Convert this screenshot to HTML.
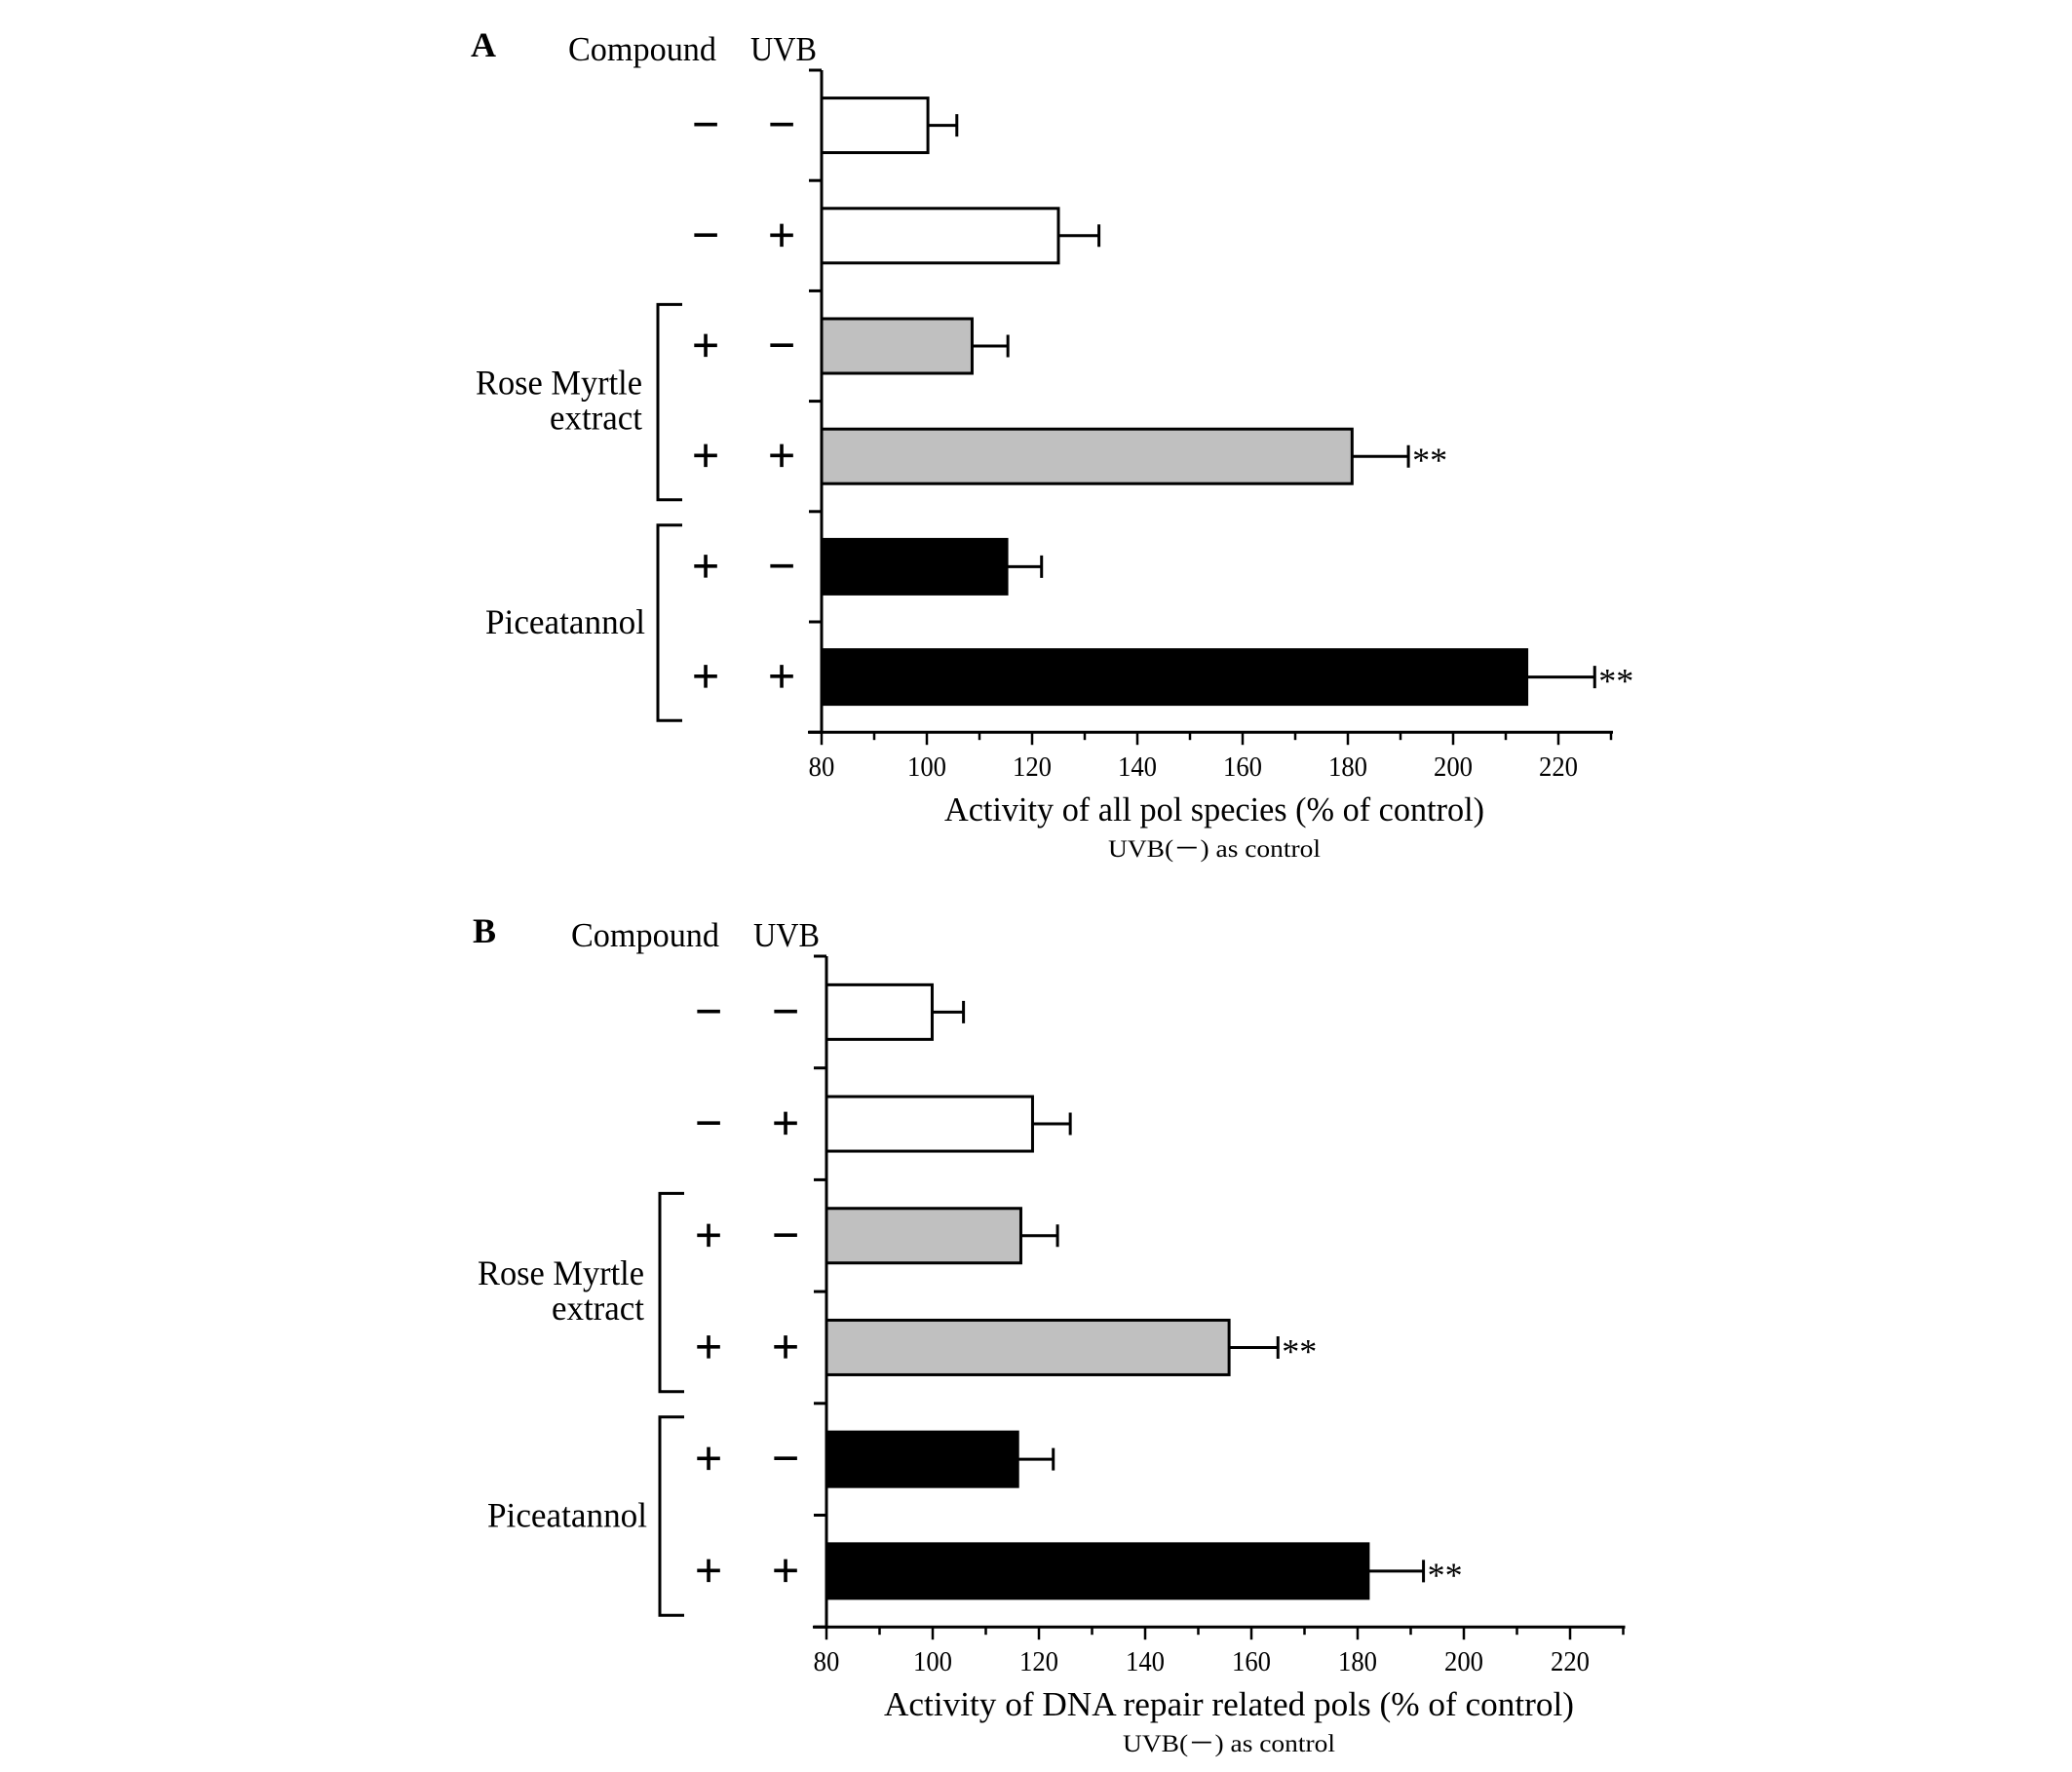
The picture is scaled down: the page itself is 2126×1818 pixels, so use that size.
<!DOCTYPE html>
<html><head><meta charset="utf-8"><style>
html,body{margin:0;padding:0;background:#fff;}
svg{display:block;}
text{font-family:"Liberation Serif",serif;fill:#000;}
</style></head><body>
<svg id="chart" width="2126" height="1818" viewBox="0 0 2126 1818" xmlns="http://www.w3.org/2000/svg"></svg>
<script>
const compound = ['−','−','+','+','+','+'];
const uvb = ['−','+','−','+','−','+'];
const fills = ['#fff','#fff','#c0c0c0','#c0c0c0','#000','#000'];
const valuesA = [100.2, 125.0, 108.6, 180.8, 115.2, 214.0];
const errorsA = [105.7, 132.7, 115.4, 191.5, 121.8, 226.9];
const starsA = ['', '', '', '**', '', '**'];
const valuesB = [99.9, 118.8, 116.6, 155.8, 116.0, 182.0];
const errorsB = [105.8, 125.9, 123.5, 165.0, 122.7, 192.4];
const starsB = ['', '', '', '**', '', '**'];
const tickLabels = [80, 100, 120, 140, 160, 180, 200, 220];

const NS = 'http://www.w3.org/2000/svg';
const svg = document.getElementById('chart');
function mk(tag, attrs, parent, txt){
  const e = document.createElementNS(NS, tag);
  for (const k in attrs) e.setAttribute(k, attrs[k]);
  if (txt !== undefined) e.textContent = txt;
  (parent || svg).appendChild(e);
  return e;
}
function panel(cfg){
  const g = mk('g', {});
  
  
  const x = v => cfg.x0 + (v - 80) * cfg.per20 / 20;
  const top = cfg.top, sp = cfg.sp, bottom = top + sp * 6;
  const rowY = i => top + sp * (i + 0.5);
  const sw = 3;
  let t = mk('text', {x: cfg.lx, y: cfg.hy, 'font-size': 36, 'font-weight': 'bold'}, g, cfg.id);
   
  t = mk('text', {x: cfg.cx, y: cfg.hy + 4, 'font-size': 35, textLength: 152, lengthAdjust: 'spacingAndGlyphs'}, g, 'Compound');
   
  t = mk('text', {x: cfg.ux, y: cfg.hy + 4, 'font-size': 35, textLength: 68, lengthAdjust: 'spacingAndGlyphs'}, g, 'UVB');
   
  let l = mk('line', {x1: cfg.x0, y1: top, x2: cfg.x0, y2: bottom + 1.5, stroke: '#000', 'stroke-width': sw}, g);
   
  for (let i = 0; i <= 6; i++){
    const tk = mk('line', {x1: cfg.x0 - 13, y1: top + sp * i, x2: cfg.x0, y2: top + sp * i, stroke: '#000', 'stroke-width': sw}, g);
     
  }
  l = mk('line', {x1: cfg.x0 - 14, y1: bottom, x2: x(230) + 2, y2: bottom, stroke: '#000', 'stroke-width': sw}, g);
   
  for (let v = 80; v <= 230; v += 10){
    const major = v % 20 === 0;
    const tk = mk('line', {x1: x(v), y1: bottom, x2: x(v), y2: bottom + (major ? 13 : 8), stroke: '#000', 'stroke-width': 2.5}, g);
     
  }
  tickLabels.forEach(v => {
    const tl = mk('text', {x: x(v), y: bottom + 45, 'font-size': 29, 'text-anchor': 'middle', transform: `translate(${x(v)},0) scale(0.92,1) translate(${-x(v)},0)`}, g, String(v));
     
  });
  t = mk('text', {x: cfg.tc, y: bottom + 91, 'font-size': 35, 'text-anchor': 'middle', textLength: cfg.tw, lengthAdjust: 'spacingAndGlyphs'}, g, cfg.title);
   
  t = mk('text', {x: cfg.tc, y: bottom + 128, 'font-size': 25, 'text-anchor': 'middle', textLength: 218, lengthAdjust: 'spacingAndGlyphs'}, g, 'UVB(－) as control');
   
  cfg.values.forEach((v, i) => {
    const cy = rowY(i);
    const b = mk('rect', {x: cfg.x0, y: cy - 28, width: x(v) - cfg.x0, height: 56, fill: fills[i], stroke: '#000', 'stroke-width': sw}, g);
     
    const e = cfg.errors[i];
    const eb = mk('path', {d: `M${x(v)},${cy}H${x(e)}M${x(e)},${cy - 11.5}V${cy + 11.5}`, stroke: '#000', 'stroke-width': sw, fill: 'none'}, g);
     
    if (cfg.stars[i]){
      const s = mk('text', {x: x(e) + 4, y: cy + 16, 'font-size': 36}, g, cfg.stars[i]);
       
    }
    const c = mk('text', {x: cfg.scx, y: cy + 15, 'font-size': 48, 'text-anchor': 'middle', stroke: '#000', 'stroke-width': 1.2}, g, compound[i]);
     
    const u = mk('text', {x: cfg.sux, y: cy + 15, 'font-size': 48, 'text-anchor': 'middle', stroke: '#000', 'stroke-width': 1.2}, g, uvb[i]);
     
  });
  [[2, 'Rose Myrtle', 'extract', 171, 95], [4, 'Piceatannol', null, 164, 0]].forEach(([i, a, b, wa, wb], k) => {
    const y1 = top + sp * i + 14, y2 = top + sp * (i + 2) - 12;
    const br = mk('path', {d: `M${cfg.bx + 25},${y1}H${cfg.bx}V${y2}H${cfg.bx + 25}`, stroke: '#000', 'stroke-width': sw, fill: 'none'}, g);
     
    const mid = top + sp * (i + 1);
    if (b){
      let tx = mk('text', {x: cfg.bx - 16 - wa, y: mid - 7, 'font-size': 36, textLength: wa, lengthAdjust: 'spacingAndGlyphs'}, g, a);
       
      tx = mk('text', {x: cfg.bx - 16 - wb, y: mid + 29, 'font-size': 36, textLength: wb, lengthAdjust: 'spacingAndGlyphs'}, g, b);
       
    } else {
      const tx = mk('text', {x: cfg.bx - 13 - wa, y: mid + 12, 'font-size': 36, textLength: wa, lengthAdjust: 'spacingAndGlyphs'}, g, a);
       
    }
  });
}
panel({id: 'A', x0: 843, per20: 108, top: 72, sp: 113.2, lx: 483, hy: 58, cx: 583, ux: 770,
  scx: 724, sux: 802, bx: 675, tc: 1246, tw: 554, title: 'Activity of all pol species (% of control)',
  values: valuesA, errors: errorsA, stars: starsA});
panel({id: 'B', x0: 848, per20: 109, top: 981, sp: 114.7, lx: 485, hy: 967, cx: 586, ux: 773,
  scx: 727, sux: 806, bx: 677, tc: 1261, tw: 708, title: 'Activity of DNA repair related pols (% of control)',
  values: valuesB, errors: errorsB, stars: starsB});
</script>
</body></html>
